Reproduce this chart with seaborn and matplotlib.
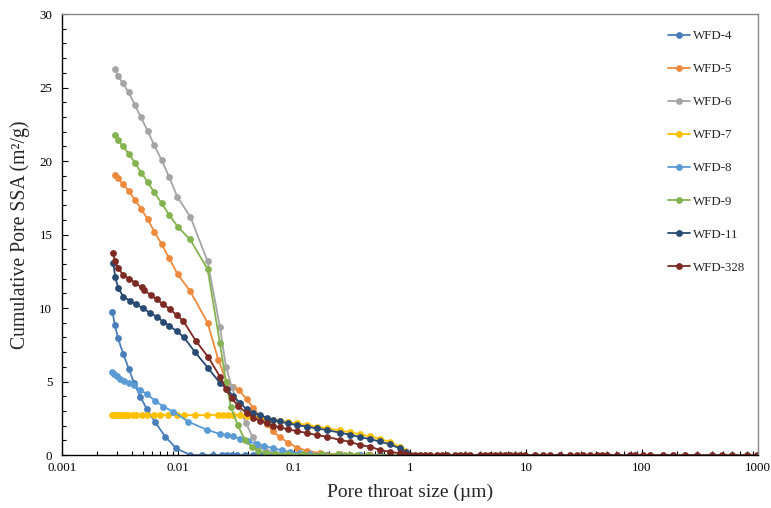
import numpy as np
import pandas as pd
import matplotlib
matplotlib.use("Agg")
import matplotlib.pyplot as plt
import matplotlib.ticker as mticker
import seaborn as sns

# ---------------- data (pore throat size in µm, cumulative SSA in m²/g) ----------------
SAMPLES = ["WFD-4", "WFD-5", "WFD-6", "WFD-7", "WFD-8", "WFD-9", "WFD-11", "WFD-328"]
COLORS = ["#4A7EBB", "#EE8A3E", "#A5A5A5", "#FFC000", "#5B9BD5", "#84B350", "#294A72", "#7D2A24"]

WFD4_X = [0.00272, 0.00286, 0.00304, 0.00338, 0.00378, 0.00418, 0.00473, 0.00541, 0.0063, 0.00777,
          0.00967, 0.0128, 0.0160, 0.0200, 0.0240, 0.0264, 0.0291, 0.0321, 0.0378, 0.0446,
          0.0509, 0.0582, 0.0659, 0.0757, 0.0888, 0.1055, 0.1287, 0.157, 0.191, 0.249,
          0.304, 0.371, 0.452, 0.551, 0.672, 0.82]
WFD4_Y = [9.75, 8.84, 7.94, 6.87, 5.83, 4.9, 3.97, 3.1, 2.27, 1.25,
          0.45, 0, 0, 0, 0, 0, 0, 0, 0, 0,
          0, 0, 0, 0, 0, 0, 0, 0, 0, 0,
          0, 0, 0, 0, 0, 0]

WFD5_X = [0.00286, 0.00306, 0.00334, 0.00378, 0.00426, 0.00483, 0.00548, 0.00625, 0.00724, 0.00841,
          0.00994, 0.0127, 0.0180, 0.0223, 0.0263, 0.0298, 0.0336, 0.0391, 0.0446, 0.0509,
          0.0582, 0.0663, 0.0757, 0.0893, 0.1055, 0.1287, 0.1675, 0.2493, 0.304, 0.371,
          0.452, 0.551, 0.672, 0.82]
WFD5_Y = [19.05, 18.82, 18.44, 17.96, 17.35, 16.73, 16.03, 15.2, 14.33, 13.38,
          12.29, 11.16, 9.0, 6.46, 4.99, 4.6, 4.4, 3.8, 3.2, 2.6,
          2.1, 1.6, 1.2, 0.85, 0.5, 0.3, 0.12, 0.04, 0.02, 0,
          0, 0, 0, 0]

WFD6_X = [0.00286, 0.00306, 0.00333, 0.00376, 0.00423, 0.0048, 0.00548, 0.00625, 0.00724, 0.00841,
          0.00986, 0.0128, 0.0180, 0.0230, 0.0259, 0.0290, 0.0329, 0.0385, 0.0440, 0.0489,
          0.0574, 0.0686, 0.0888, 0.1127, 0.1675, 0.2493, 0.371, 0.551, 0.82]
WFD6_Y = [26.26, 25.76, 25.3, 24.67, 23.83, 22.97, 22.04, 21.07, 20.05, 18.9,
          17.57, 16.19, 13.18, 8.7, 6.0, 4.65, 3.4, 2.2, 1.2, 0.6,
          0.3, 0.15, 0.08, 0.04, 0.02, 0, 0, 0, 0]

WFD7_X = [0.00272, 0.00283, 0.00292, 0.00304, 0.00316, 0.00329, 0.00349, 0.00373, 0.00407, 0.00435,
          0.00486, 0.00544, 0.00621, 0.00699, 0.00825, 0.00975, 0.01126, 0.01402, 0.01768, 0.02226,
          0.02458, 0.02714, 0.02998, 0.03424, 0.0391, 0.04457, 0.05092, 0.05816, 0.06632, 0.07573,
          0.08931, 0.1055, 0.1287, 0.1570, 0.1914, 0.2493, 0.304, 0.3707, 0.452, 0.5512,
          0.6723, 0.8202, 0.9056, 1.0]
WFD7_Y = [2.72, 2.72, 2.72, 2.72, 2.72, 2.72, 2.72, 2.72, 2.72, 2.72,
          2.72, 2.72, 2.72, 2.72, 2.72, 2.72, 2.72, 2.72, 2.72, 2.72,
          2.72, 2.72, 2.72, 2.72, 2.68, 2.62, 2.55, 2.48, 2.41, 2.33,
          2.24, 2.15, 2.05, 1.92, 1.82, 1.67, 1.55, 1.4, 1.27, 1.1,
          0.88, 0.55, 0.3, 0]

WFD8_X = [0.00272, 0.00283, 0.00296, 0.00316, 0.00342, 0.00378, 0.00418, 0.0047, 0.00544, 0.00633,
          0.00747, 0.00911, 0.01227, 0.01768, 0.02302, 0.0263, 0.02998, 0.03424, 0.0401, 0.04768,
          0.05512, 0.06632, 0.07834, 0.09237, 0.1127, 0.1374, 0.1743, 0.2493, 0.3707, 0.5512,
          0.8202]
WFD8_Y = [5.67, 5.51, 5.37, 5.19, 5.03, 4.92, 4.76, 4.42, 4.13, 3.7,
          3.3, 2.95, 2.27, 1.72, 1.43, 1.36, 1.27, 1.1, 0.92, 0.78,
          0.62, 0.46, 0.33, 0.22, 0.12, 0.05, 0.02, 0, 0, 0,
          0]

WFD9_X = [0.00286, 0.00302, 0.00334, 0.00378, 0.00426, 0.00483, 0.00548, 0.00625, 0.00724, 0.00841,
          0.00994, 0.0127, 0.0180, 0.0230, 0.0259, 0.0286, 0.0327, 0.0378, 0.0432, 0.0489,
          0.0574, 0.0686, 0.0888, 0.1196, 0.1743, 0.2395, 0.2753, 0.304, 0.349, 0.4345,
          0.672, 1.0]
WFD9_Y = [21.77, 21.43, 21.02, 20.48, 19.86, 19.2, 18.57, 17.86, 17.12, 16.33,
          15.53, 14.67, 12.65, 7.6, 5.0, 3.24, 2.04, 1.02, 0.57, 0.3,
          0.15, 0.1, 0.08, 0.06, 0.05, 0.04, 0.03, 0.03, 0.02, 0,
          0, 0]

WFD11_X = [0.00277, 0.00288, 0.00306, 0.00338, 0.00386, 0.00435, 0.00496, 0.00574, 0.00655, 0.00747,
           0.00841, 0.00975, 0.01126, 0.01402, 0.01825, 0.02302, 0.0263, 0.02998, 0.03424, 0.0391,
           0.04457, 0.05092, 0.05816, 0.06632, 0.07573, 0.08931, 0.1055, 0.1287, 0.157, 0.1914,
           0.2493, 0.304, 0.3707, 0.452, 0.5512, 0.6723, 0.8202, 0.9237, 1.0]
WFD11_Y = [13.04, 12.09, 11.34, 10.77, 10.5, 10.25, 9.98, 9.68, 9.41, 9.07,
           8.78, 8.44, 8.0, 7.0, 5.9, 4.9, 4.5, 4.0, 3.55, 3.1,
           2.85, 2.7, 2.55, 2.4, 2.28, 2.15, 2.04, 1.93, 1.81, 1.7,
           1.52, 1.38, 1.22, 1.08, 0.92, 0.72, 0.45, 0.2, 0]

WFD328_X = [0.00277, 0.00286, 0.00306, 0.00338, 0.0038, 0.00426, 0.00486, 0.00509, 0.00582, 0.00655,
            0.00747, 0.00853, 0.00975, 0.01111, 0.0143, 0.01825, 0.02302, 0.02593, 0.02904, 0.0331,
            0.0391, 0.04457, 0.05092, 0.05816, 0.06632, 0.07573, 0.08931, 0.1055, 0.1287, 0.157,
            0.1914, 0.2493, 0.304, 0.3707, 0.452, 0.5512, 0.6723, 0.8202, 0.9056,
            1.0, 1.10, 1.22, 1.35, 1.49, 1.70, 1.87, 2.07, 2.44, 2.70,
            2.98, 3.29, 4.01, 4.43, 4.89, 5.41, 5.97, 6.6, 7.28, 8.04,
            8.88, 9.8, 11.96, 14.1, 16.1, 19.6, 23.9, 27.4, 31.2, 35.7,
            40.7, 45, 49.6, 60.5, 78.9, 87.1, 102.6, 117, 152.8, 186,
            235, 296, 399, 486, 593, 798, 975]
WFD328_Y = [13.72, 13.2, 12.7, 12.24, 12.0, 11.72, 11.4, 11.22, 10.88, 10.59,
            10.25, 9.91, 9.52, 9.12, 7.75, 6.65, 5.33, 4.5, 3.86, 3.33,
            2.85, 2.55, 2.33, 2.15, 1.97, 1.88, 1.74, 1.63, 1.5, 1.36,
            1.25, 1.02, 0.9, 0.68, 0.57, 0.34, 0.22, 0.11, 0.04,
            0, 0, 0, 0, 0, 0, 0, 0, 0, 0,
            0, 0, 0, 0, 0, 0, 0, 0, 0, 0,
            0, 0, 0, 0, 0, 0, 0, 0, 0, 0,
            0, 0, 0, 0, 0, 0, 0, 0, 0, 0,
            0, 0, 0, 0, 0, 0, 0]

SERIES_X = [WFD4_X, WFD5_X, WFD6_X, WFD7_X, WFD8_X, WFD9_X, WFD11_X, WFD328_X]
SERIES_Y = [WFD4_Y, WFD5_Y, WFD6_Y, WFD7_Y, WFD8_Y, WFD9_Y, WFD11_Y, WFD328_Y]

XTICKS = [0.001, 0.01, 0.1, 1, 10, 100, 1000]
XTICK_LABELS = ["0.001", "0.01", "0.1", "1", "10", "100", "1000"]
YTICKS = [0, 5, 10, 15, 20, 25, 30]

# ---------------- build long-form table ----------------
frames = []
for name, xs, ys in zip(SAMPLES, SERIES_X, SERIES_Y):
    assert len(xs) == len(ys), (name, len(xs), len(ys))
    frames.append(pd.DataFrame({"size": xs, "ssa": ys, "sample": name}))
df = pd.concat(frames, ignore_index=True)

sns.set_style("ticks")
plt.rcParams["font.family"] = ["Liberation Serif", "DejaVu Serif"]

fig = plt.figure(figsize=(7.71, 5.08), dpi=100)
ax = fig.add_axes([0.0804, 0.1043, 0.9027, 0.8681])

sns.lineplot(data=df, x="size", y="ssa", hue="sample", hue_order=SAMPLES,
             palette=dict(zip(SAMPLES, COLORS)), marker="o", markersize=4.9,
             markeredgewidth=0, linewidth=1.3, sort=False, estimator=None,
             ax=ax, legend=True)

ax.set_xscale("log")
ax.set_xlim(0.001, 1000)
ax.set_ylim(0, 30)
ax.set_xticks(XTICKS)
ax.set_xticklabels(XTICK_LABELS)
ax.xaxis.set_minor_locator(mticker.LogLocator(base=10, subs=range(2, 10), numticks=100))
ax.xaxis.set_minor_formatter(mticker.NullFormatter())
ax.set_yticks(YTICKS)
ax.yaxis.set_minor_locator(mticker.MultipleLocator(1))

ax.tick_params(axis="both", which="both", direction="in", colors="black", labelsize=9.4)
ax.tick_params(axis="both", which="major", length=4, width=0.8)
ax.tick_params(axis="both", which="minor", length=3, width=0.8)
ax.tick_params(axis="y", which="major", pad=7)
ax.tick_params(axis="x", which="major", pad=5)

for side in ["left", "bottom"]:
    ax.spines[side].set_color("black")
    ax.spines[side].set_linewidth(1.0)
for side in ["top", "right"]:
    ax.spines[side].set_visible(True)
    ax.spines[side].set_color("#8a8a8a")
    ax.spines[side].set_linewidth(1.0)

ax.set_xlabel("Pore throat size (µm)", fontsize=14, labelpad=7)
ax.set_ylabel("Cumulative Pore SSA (m²/g)", fontsize=14.2, labelpad=7)

handles, labels = ax.get_legend_handles_labels()
ax.legend(handles, labels, loc="upper left", bbox_to_anchor=(0.8707, 0.9637),
          frameon=False, fontsize=9.3, labelspacing=1.63, handlelength=1.7,
          handletextpad=0.2, borderpad=0, borderaxespad=0)

fig.savefig("out.png", dpi=100)
